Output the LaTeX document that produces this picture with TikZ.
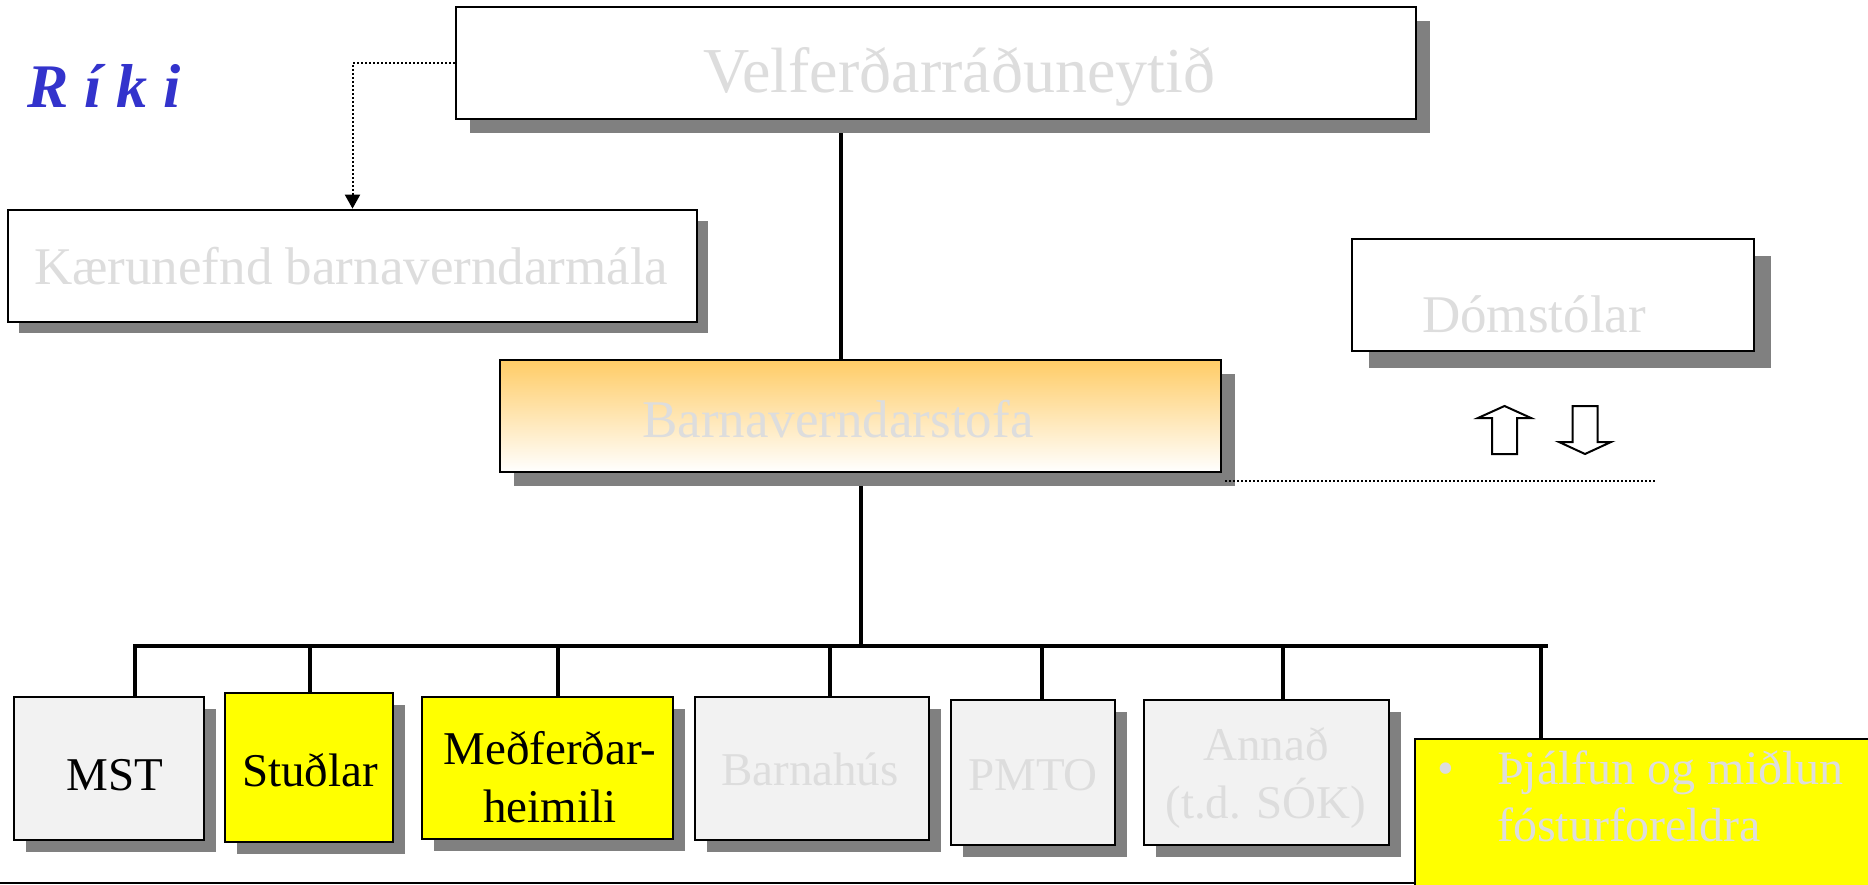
\documentclass[tikz,border=0pt]{standalone}
\usepackage{fontspec}
\setmainfont{Liberation Serif}
\usetikzlibrary{shadows,arrows.meta}
\pgfdeclarelayer{bgfill}
\pgfdeclarelayer{bg}
\pgfsetlayers{bgfill,bg,main}
\definecolor{ltxt}{HTML}{DDDDDD}
\definecolor{shgray}{HTML}{808080}
\definecolor{boxgray}{HTML}{F2F2F2}
\definecolor{ylw}{HTML}{FFFF00}
\definecolor{orng}{HTML}{FFCC66}
\definecolor{rikiblue}{HTML}{3333CC}
\begin{document}
\begin{tikzpicture}[x=1pt,y=-1pt,
  shbox/.style={draw=black, line width=2.7pt, inner sep=0pt,
    drop shadow={shadow xshift=#1, shadow yshift=-#1, fill=shgray, opacity=1}},
  shbox/.default=12pt,
  bigtxt/.style={text=ltxt, inner sep=0pt, font=\fontsize{53}{58}\selectfont},
  smtxt/.style={inner sep=0pt, anchor=base, font=\fontsize{47}{58}\selectfont},
  conn/.style={line width=4pt},
  dotline/.style={line width=2pt, dash pattern=on 2pt off 2pt},
  bigarrow/.style={draw=black, line width=2pt, fill=white}
]
\begin{pgfonlayer}{bgfill}
  \fill[white] (0,0) rectangle (1868,885);
\end{pgfonlayer}
\useasboundingbox (0,0) rectangle (1868,885);

\node (riki) [text=rikiblue, inner sep=0pt, anchor=base west,
  font=\fontsize{62}{62}\selectfont\bfseries\itshape] at (27,108) {R í k i};

\node (velf) [shbox=14pt, fill=white, minimum width=960pt, minimum height=112pt] at (936,63) {};
\node (velft) [bigtxt, font=\fontsize{64}{70}\selectfont, anchor=base west] at (703,93) {Velferðarráðuneytið};

\node (kaer) [shbox=11pt, fill=white, minimum width=689pt, minimum height=112pt] at (352.5,266) {};
\node (kaert) [bigtxt, anchor=base west] at (34,285) {Kærunefnd barnaverndarmála};

\node (doms) [shbox=17pt, fill=white, minimum width=402pt, minimum height=112pt] at (1553,295) {};
\node (domst) [bigtxt, anchor=base west] at (1422,332) {Dómstólar};

\node (barna) [shbox=14pt, top color=orng, bottom color=white, minimum width=721pt, minimum height=112pt] at (860.5,416) {};
\node (barnat) [bigtxt, anchor=base west] at (642,437) {Barnaverndarstofa};

\node (mst) [shbox, fill=boxgray, minimum width=190pt, minimum height=143pt] at (109,768.5) {};
\node (mstt) [smtxt] at (115,790) {MST};
\node (stud) [shbox, fill=ylw, minimum width=168pt, minimum height=149pt] at (309,767.5) {};
\node (studt) [smtxt] at (310,786) {Stuðlar};
\node (medf) [shbox, fill=ylw, minimum width=251pt, minimum height=142pt] at (547.5,768) {};
\node (medft) [smtxt] at (550,764) {\parbox[t]{240pt}{\centering Meðferðar-\\heimili}};
\node (bhus) [shbox, fill=boxgray, minimum width=234pt, minimum height=143pt] at (812,768.5) {};
\node (bhust) [smtxt, text=ltxt] at (810,785) {Barnahús};
\node (pmto) [shbox, line width=2.2pt, fill=boxgray, minimum width=164pt, minimum height=145pt] at (1033,772.5) {};
\node (pmtot) [smtxt, text=ltxt] at (1033,790) {PMTO};
\node (annad) [shbox, line width=2.2pt, fill=boxgray, minimum width=245pt, minimum height=145pt] at (1266.5,772.5) {};
\node (annadt) [smtxt, text=ltxt] at (1266,760) {\parbox[t]{240pt}{\centering Annað\\(t.d. SÓK)}};

\node (thj) [draw=black, line width=2.7pt, fill=ylw, inner sep=0pt, minimum width=485pt, minimum height=181pt] at (1657.5,829.5) {};
\node (thjt) [inner sep=0pt, anchor=base west, text=ltxt, font=\fontsize{48}{57}\selectfont] at (1437,784)
  {\parbox[t]{420pt}{\makebox[60pt][l]{•}Þjálfun og miðlun\\\hspace*{60pt}fósturforeldra}};

\draw[bigarrow] (1504.5,406) -- (1531,418) -- (1517,418) -- (1517,454) -- (1492,454) -- (1492,418) -- (1478,418) -- cycle;
\draw[bigarrow] (1585,454) -- (1611,442) -- (1597.5,442) -- (1597.5,406) -- (1572.5,406) -- (1572.5,442) -- (1559,442) -- cycle;

\coordinate (dl1) at (1225,481);
\coordinate (dl2) at (1656,481);
\draw[dotline] (dl1) -- (dl2);

\begin{pgfonlayer}{bg}
  \draw[dotline, -{Triangle[length=14pt,width=15pt]}] (velf.west) -| (kaer.north);
  \coordinate (vx) at (841,0);
  \draw[conn] (vx |- velf.south) -- (vx |- barna.north);
  \coordinate (busL) at (135,646);
  \coordinate (busR) at (1548,646);
  \draw[conn] (barna.south) -- (barna.south |- busL);
  \draw[conn] (busL |- mst.north) -- (busL) -- (busR);
  \foreach \n/\x in {stud/310, medf/558, bhus/830, pmto/1042, annad/1283, thj/1541} {
    \coordinate (d-\n) at (\x,646);
    \draw[conn] (d-\n) -- (d-\n |- \n.north);
  }
  \coordinate (botL) at (0,883);
  \draw[line width=2.5pt] (botL) -- (botL -| thj.west);
\end{pgfonlayer}
\end{tikzpicture}
\end{document}
